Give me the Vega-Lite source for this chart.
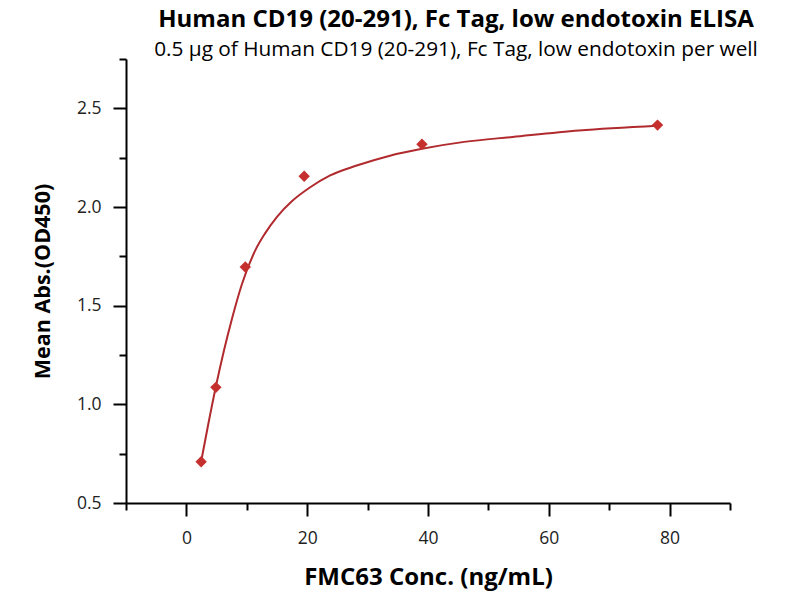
{
  "$schema": "https://vega.github.io/schema/vega-lite/v6.json",
  "width": 604,
  "height": 444,
  "autosize": {"type": "none"},
  "padding": {"left": 126, "top": 59, "right": 70, "bottom": 97},
  "background": "white",
  "title": {
    "text": "Human CD19 (20-291), Fc Tag, low endotoxin ELISA",
    "subtitle": "0.5 µg of Human CD19 (20-291), Fc Tag, low endotoxin per well",
    "anchor": "middle",
    "dx": 28,
    "font": "Open Sans",
    "fontSize": 24,
    "fontWeight": "bold",
    "color": "black",
    "subtitleFont": "Open Sans",
    "subtitleFontSize": 20.8,
    "subtitleColor": "black",
    "subtitlePadding": 8,
    "offset": -2
  },
  "datasets": {
    "points": [
      {"conc": 2.44, "od": 0.709},
      {"conc": 4.88, "od": 1.086},
      {"conc": 9.75, "od": 1.696},
      {"conc": 19.5, "od": 2.156},
      {"conc": 39, "od": 2.318},
      {"conc": 78, "od": 2.415}
    ],
    "curve": [
      {"conc": 2.44, "od": 0.71},
      {"conc": 3.5, "od": 0.88},
      {"conc": 4.88, "od": 1.09},
      {"conc": 6.2, "od": 1.27},
      {"conc": 7.6, "od": 1.44},
      {"conc": 9.2, "od": 1.61},
      {"conc": 11.4, "od": 1.78},
      {"conc": 13.0, "od": 1.865},
      {"conc": 15.0, "od": 1.95},
      {"conc": 17.5, "od": 2.03},
      {"conc": 20.5, "od": 2.1},
      {"conc": 23.8, "od": 2.16},
      {"conc": 28.2, "od": 2.21},
      {"conc": 33.7, "od": 2.26},
      {"conc": 39, "od": 2.295},
      {"conc": 46, "od": 2.33},
      {"conc": 54, "od": 2.355},
      {"conc": 65, "od": 2.388},
      {"conc": 78, "od": 2.412}
    ]
  },
  "layer": [
    {
      "data": {"name": "curve"},
      "mark": {"type": "line", "interpolate": "monotone", "color": "#b02a2e", "strokeWidth": 2},
      "encoding": {
        "x": {
          "field": "conc",
          "type": "quantitative",
          "title": "FMC63 Conc. (ng/mL)",
          "scale": {"domain": [-10, 90], "nice": false, "zero": false},
          "axis": {
            "orient": "bottom",
            "values": [0, 20, 40, 60, 80],
            "tickSize": 13,
            "labelPadding": 13,
            "titlePadding": 19,
            "titleFontSize": 24
          }
        },
        "y": {
          "field": "od",
          "type": "quantitative",
          "title": "Mean Abs.(OD450)",
          "scale": {"domain": [0.5, 2.75], "nice": false, "zero": false},
          "axis": {
            "orient": "left",
            "values": [0.5, 1, 1.5, 2, 2.5],
            "format": ".1f",
            "tickSize": 13,
            "labelPadding": 12,
            "titlePadding": 22,
            "titleFontSize": 21.5
          }
        }
      }
    },
    {
      "data": {"name": "points"},
      "mark": {"type": "point", "shape": "diamond", "filled": true, "color": "#c5302f", "opacity": 1, "size": 130},
      "encoding": {
        "x": {
          "field": "conc",
          "type": "quantitative",
          "axis": {
            "orient": "bottom",
            "values": [-10, 10, 30, 50, 70, 90],
            "labels": false,
            "domain": false,
            "tickSize": 7,
            "title": null
          }
        },
        "y": {
          "field": "od",
          "type": "quantitative",
          "axis": {
            "orient": "left",
            "values": [0.75, 1.25, 1.75, 2.25, 2.75],
            "labels": false,
            "domain": false,
            "tickSize": 7,
            "title": null
          }
        }
      }
    }
  ],
  "resolve": {
    "scale": {"x": "shared", "y": "shared"},
    "axis": {"x": "independent", "y": "independent"}
  },
  "config": {
    "view": {"stroke": null},
    "axis": {
      "grid": false,
      "domainColor": "black",
      "domainWidth": 2,
      "tickColor": "black",
      "tickWidth": 2,
      "labelFont": "Open Sans",
      "labelFontSize": 17.5,
      "labelColor": "#222",
      "titleFont": "Open Sans",
      "titleFontSize": 21,
      "titleFontWeight": "bold",
      "titleColor": "black"
    }
  }
}
